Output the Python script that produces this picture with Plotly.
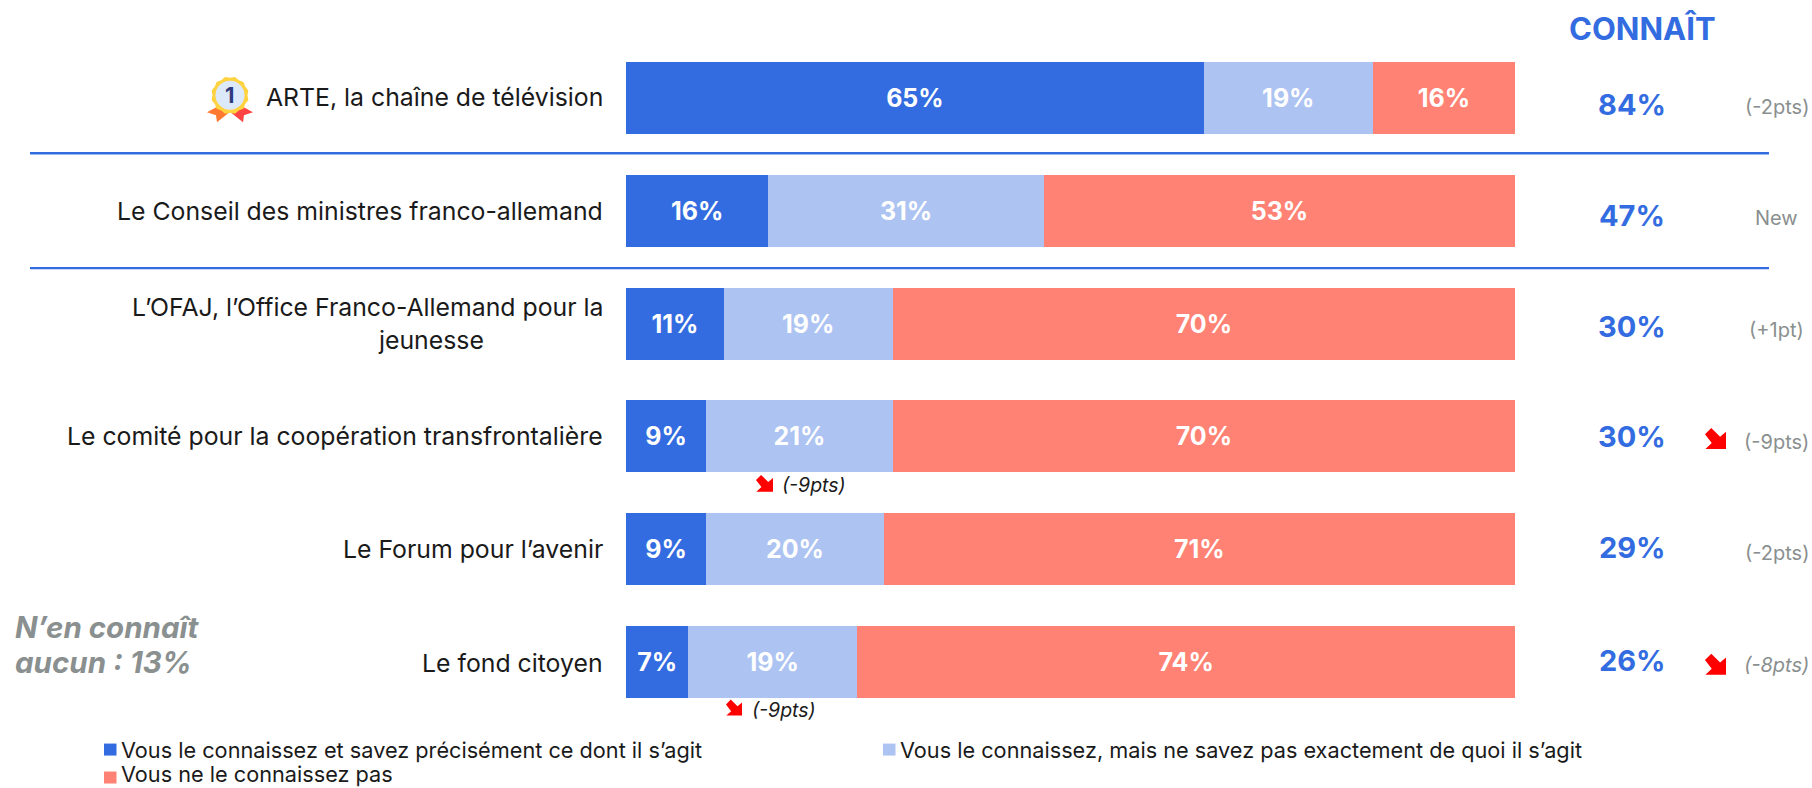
import math
import plotly.graph_objects as go

categories = ["ARTE, la chaîne de télévision", "Le Conseil des ministres franco-allemand",
              "L’OFAJ, l’Office Franco-Allemand pour la", "Le comité pour la coopération transfrontalière",
              "Le Forum pour l’avenir", "Le fond citoyen"]
knows_precisely = [65, 16, 11, 9, 9, 7]
knows_vaguely = [19, 31, 19, 21, 20, 19]
does_not_know = [16, 53, 70, 70, 71, 74]
knows_total = [84, 47, 30, 30, 29, 26]
evolution = ["(-2pts)", "New", "(+1pt)", "(-9pts)", "(-2pts)", "(-8pts)"]
series_names = ["Vous le connaissez et savez précisément ce dont il s’agit",
                "Vous le connaissez, mais ne savez pas exactement de quoi il s’agit",
                "Vous ne le connaissez pas"]

W, H = 1812, 788
L, R, T, B = 626, 1515, 41.6, 718.4
BLUE, LIGHT, SALMON = "#336CE0", "#ADC3F2", "#FF8274"
GREY = "#8A8F8F"
FONT = "Inter"

def X(p): return (p - L) / (R - L)
def Y(p): return 1 - (p - T) / (B - T)

fig = go.Figure()
for name, vals, col in zip(series_names, [knows_precisely, knows_vaguely, does_not_know], [BLUE, LIGHT, SALMON]):
    fig.add_bar(y=categories, x=vals, name=name, orientation="h", marker=dict(color=col, line_width=0),
                text=[f"{v}%" for v in vals], textposition="inside", insidetextanchor="middle",
                textangle=0, constraintext="none", cliponaxis=False,
                textfont=dict(family=FONT, size=25, color="white", weight=700), hoverinfo="x+y")

def note(px, py, text, size, color="#1A1A1A", anchor="center", **font_kw):
    fig.add_annotation(x=X(px), y=Y(py), xref="paper", yref="paper", text=text, showarrow=False,
                       xanchor=anchor, yanchor="middle", align=anchor if anchor != "center" else "center",
                       borderpad=0, font=dict(family=FONT, size=size, color=color, **font_kw))

shapes = []
def poly(points, color):
    d = "M" + " L".join(f"{X(x):.5f},{Y(y):.5f}" for x, y in points) + " Z"
    shapes.append(dict(type="path", xref="paper", yref="paper", path=d, fillcolor=color, line_width=0, layer="above"))

def rect(x0, y0, x1, y1, color):
    shapes.append(dict(type="rect", xref="paper", yref="paper", x0=X(x0), x1=X(x1), y0=Y(y0), y1=Y(y1),
                       fillcolor=color, line_width=0, layer="above"))

def arrow(x, y, s):
    pts = [(0, .3), (.3, 0), (.72, .42), (1, .18), (1, 1), (.02, 1), (.32, .72)]
    poly([(x + a * s, y + b * s) for a, b in pts], "#FF0000")

# Row labels
label_y = [97, 211, 307, 436, 549, 663]
for text, y in zip(categories, label_y):
    note(604, y, text, 24.8, anchor="right")
note(431, 340, "jeunesse", 24.8)

# "Connaît" column
note(1642, 28, "CONNAÎT", 31, color=BLUE, weight=700)
total_y = [104, 215, 326, 437, 548, 661]
delta_y = [107, 218, 330, 442, 553, 665]
for v, e, y, dy in zip(knows_total, evolution, total_y, delta_y):
    note(1632, y, f"{v}%", 29, color=BLUE, weight=700)
    note(1776.5, dy, e, 20, color=GREY, style="italic" if e == "(-8pts)" else "normal")

arrow(1705, 428, 21)
arrow(1705, 654, 21)
arrow(756, 475, 17)
arrow(726, 700, 16)
note(814, 485, "(-9pts)", 19.5, style="italic")
note(784, 710, "(-9pts)", 19.5, style="italic")

note(14, 627, "N’en connaît", 29.5, color=GREY, anchor="left", weight=700, style="italic")
note(14, 662, "aucun : 13%", 29.5, color=GREY, anchor="left", weight=700, style="italic")

# Separators
for y in (153, 268):
    rect(30, y - 1.2, 1769, y + 1.2, BLUE)

# Legend
legend_pos = [(104, 744, 750), (883, 744, 750), (104, 772, 774)]
for (sx, sy, ty), name, col in zip(legend_pos, series_names, [BLUE, LIGHT, SALMON]):
    rect(sx, sy, sx + 12.5, sy + 12, col)
    note(sx + 16, ty, name, 21.7, anchor="left")

# Medal
cx, cy = 230, 95
poly([(220, 105), (207, 112), (216, 115), (217, 122), (232, 110)], "#FF7A30")
poly([(240, 105), (253, 112), (244, 115), (243, 122), (228, 110)], "#FF4444")
poly([(cx + (18 + (1 if i % 2 else -0.5)) * math.cos(i * math.pi / 12),
       cy + (18 + (1 if i % 2 else -0.5)) * math.sin(i * math.pi / 12)) for i in range(24)], "#FFD23F")
shapes.append(dict(type="circle", xref="paper", yref="paper", x0=X(cx - 14.5), x1=X(cx + 14.5), y0=Y(cy - 14.5),
                   y1=Y(cy + 14.5), fillcolor="#DCE9FB", line_width=0, layer="above"))
note(cx, cy, "1", 22, color="#2E3A7C", weight=700)

fig.update_layout(
    width=W, height=H, autosize=False, barmode="stack", bargap=1 - 72 / 112.8, showlegend=False,
    margin=dict(l=L, r=W - R, t=T, b=H - B, pad=0, autoexpand=False),
    paper_bgcolor="white", plot_bgcolor="white", shapes=shapes,
    xaxis=dict(range=[0, 100], visible=False, fixedrange=True),
    yaxis=dict(categoryorder="array", categoryarray=categories, autorange="reversed", visible=False, fixedrange=True),
)
fig.write_html("out.html", post_script="document.body.style.margin='0';", config=dict(displayModeBar=False))
